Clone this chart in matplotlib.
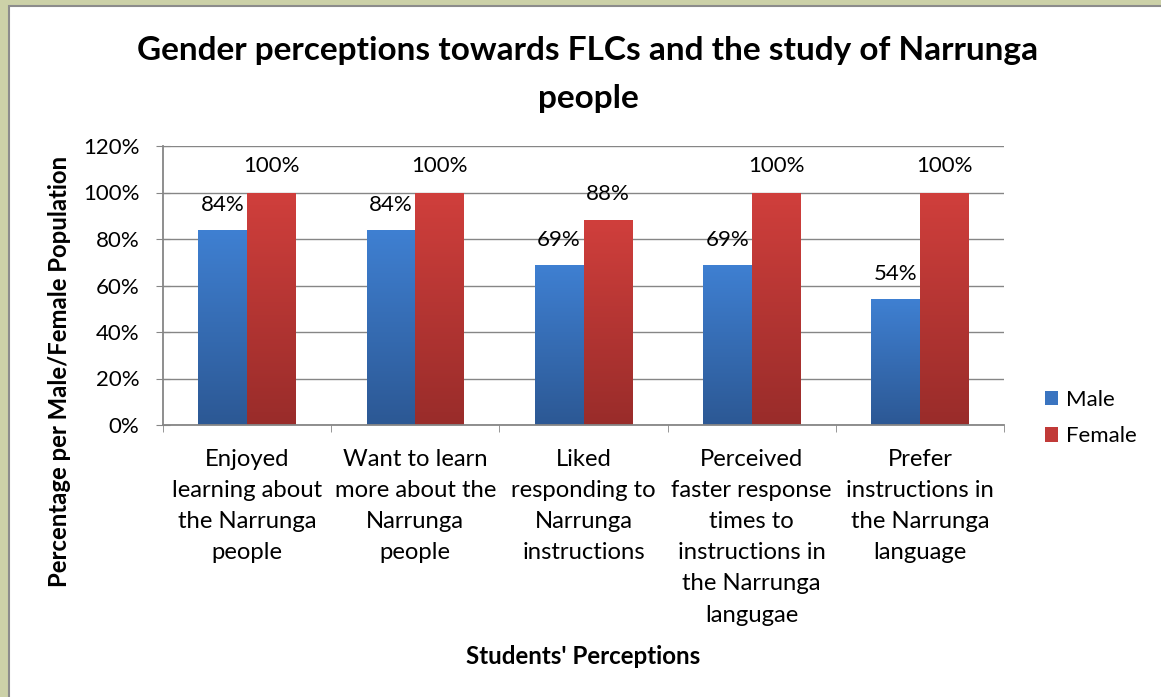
import numpy as np
import matplotlib
matplotlib.use("Agg")
import matplotlib.pyplot as plt
from matplotlib.colors import LinearSegmentedColormap
from matplotlib.patches import Rectangle, Patch

plt.rcParams['font.family'] = ['Lato', 'DejaVu Sans']

categories = [
    "Enjoyed\nlearning about\nthe Narrunga\npeople",
    "Want to learn\nmore about the\nNarrunga\npeople",
    "Liked\nresponding to\nNarrunga\ninstructions",
    "Perceived\nfaster response\ntimes to\ninstructions in\nthe Narrunga\nlangugae",
    "Prefer\ninstructions in\nthe Narrunga\nlanguage",
]
male = [0.84, 0.84, 0.69, 0.69, 0.54]
female = [1.00, 1.00, 0.88, 1.00, 1.00]
yticks = [0, 0.2, 0.4, 0.6, 0.8, 1.0, 1.2]

W, H = 1161, 697
fig = plt.figure(figsize=(W / 100, H / 100), dpi=100)
fig.patch.set_facecolor('#ccd1a8')
# white chart panel, grey edge only visible on left/top
fig.patches.append(Rectangle((9 / W, -0.1), 1.2, 1.1 - 6 / H, transform=fig.transFigure,
                             facecolor='white', edgecolor='#8c8c8c', lw=1.5, zorder=-10))

ax = fig.add_axes([163 / W, 1 - 425 / H, (1004 - 163) / W, (425 - 146) / H])
ax.set_facecolor('none')

grey = '#868686'
x = np.arange(len(categories))
bw = 0.29

blue_cm = LinearSegmentedColormap.from_list('b', ['#2c5894', '#3f80d2'])
red_cm = LinearSegmentedColormap.from_list('r', ['#992c2a', '#d03f3c'])

bars_m = ax.bar(x - bw / 2, male, bw, color='#3a74c0', zorder=2, lw=0)
bars_f = ax.bar(x + bw / 2, female, bw, color='#c13a38', zorder=2, lw=0)

grad = np.linspace(0, 1, 256).reshape(-1, 1)
for bars, cm in ((bars_m, blue_cm), (bars_f, red_cm)):
    for b in bars:
        x0, w, h = b.get_x(), b.get_width(), b.get_height()
        im = ax.imshow(grad, cmap=cm, extent=[x0, x0 + w, 0, h], origin='lower',
                       aspect='auto', zorder=2.5)
        im.set_clip_path(b)

fs = 16
for b, v in zip(bars_m, male):
    ax.annotate(f"{v:.0%}", (b.get_x() + b.get_width() / 2, v), xytext=(0, 19),
                textcoords='offset pixels', ha='center', va='baseline', fontsize=fs)
for b, v in zip(bars_f, female):
    ax.annotate(f"{v:.0%}", (b.get_x() + b.get_width() / 2, v), xytext=(0, 20),
                textcoords='offset pixels', ha='center', va='baseline', fontsize=fs)

ax.set_xlim(-0.5, len(categories) - 0.5)
ax.set_ylim(0, 1.2)
ax.set_yticks(yticks)
ax.set_yticklabels([f"{t:.0%}" for t in yticks], fontsize=fs)
ax.yaxis.grid(True, color=grey, lw=1)
ax.set_axisbelow(True)

ax.set_xticks(x)
ax.set_xticklabels(categories, fontsize=17.2, linespacing=1.6)
ax.set_xticks(np.arange(len(categories) + 1) - 0.5, minor=True)
ax.tick_params(axis='x', which='major', length=0, pad=17)
ax.tick_params(axis='x', which='minor', length=5, color=grey, direction='out')
ax.tick_params(axis='y', length=10, color=grey, direction='inout', pad=12)

for s in ('top', 'right'):
    ax.spines[s].set_visible(False)
for s in ('left', 'bottom'):
    ax.spines[s].set_color(grey)
    ax.spines[s].set_linewidth(1.3)

fig.text(60 / W, 1 - 371 / H, "Percentage per Male/Female Population", rotation=90,
         ha='center', va='center', fontsize=17.2, fontweight='bold')
fig.text(583 / W, 1 - 656 / H, "Students' Perceptions", ha='center', va='center',
         fontsize=17.4, fontweight='bold')
fig.text(588 / W, 1 - 36 / H,
         "Gender perceptions towards FLCs and the study of Narrunga\npeople",
         ha='center', va='top', fontsize=24, fontweight='bold', linespacing=1.8)

handles = [Patch(facecolor='#3a74c0'), Patch(facecolor='#c13a38')]
fig.legend(handles, ['Male', 'Female'], loc='center left',
           bbox_to_anchor=(1045 / W, 1 - 418 / H), frameon=False, fontsize=fs,
           handlelength=0.6, handleheight=0.6, handletextpad=0.35,
           labelspacing=0.75, borderpad=0, borderaxespad=0)

fig.savefig('out.png', dpi=100, facecolor=fig.get_facecolor())
